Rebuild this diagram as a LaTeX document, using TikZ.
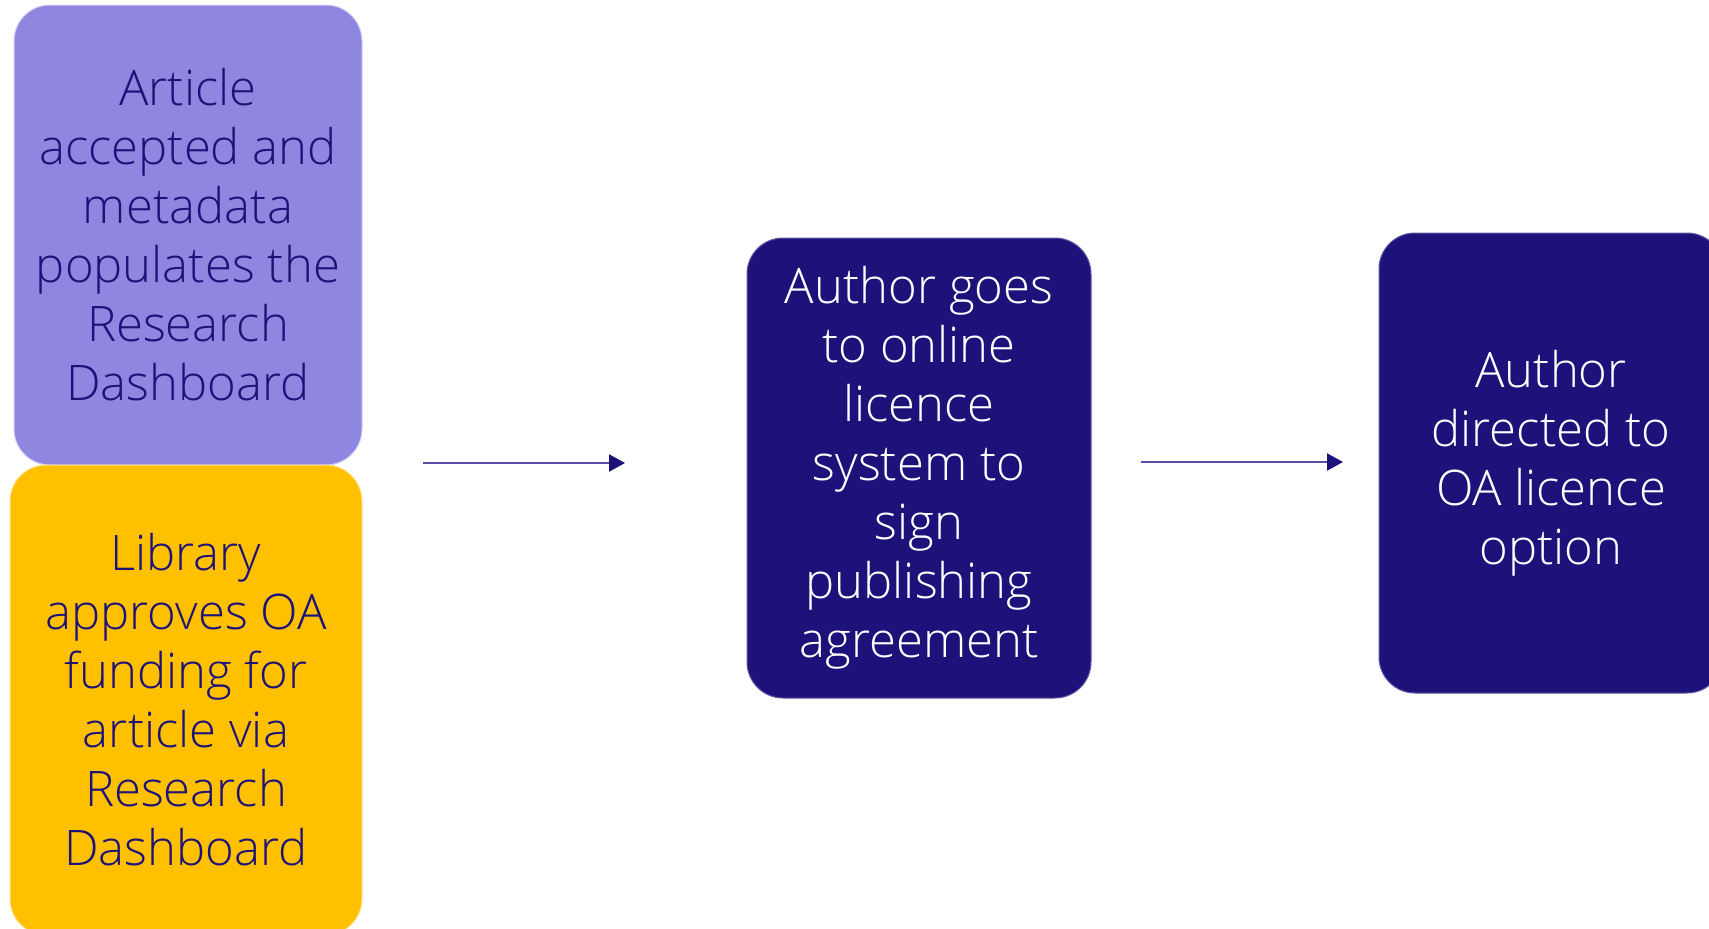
\documentclass[tikz,border=0pt]{standalone}
\usepackage{fontspec}
\setmainfont{Open Sans Light}
\usetikzlibrary{arrows.meta}
\definecolor{navy}{RGB}{28,18,121}
\definecolor{lilac}{RGB}{143,134,224}
\definecolor{amber}{RGB}{255,192,0}
\definecolor{arrowline}{RGB}{88,78,168}
\tikzset{
  card/.style={rectangle, rounded corners=36pt, inner sep=0pt, align=center,
    font=\fontsize{49}{59}\selectfont},
  lightcard/.style={card, fill=#1, draw=white!60!#1, line width=1pt, text=navy},
  darkcard/.style={card, fill=navy, draw=navy!70!white, line width=1pt, text=white},
  flow/.style={draw=arrowline, line width=2.2pt,
    -{Triangle[length=16pt,width=17pt,color=navy]}}
}
\begin{document}
\begin{tikzpicture}[x=1pt,y=-1pt]
\useasboundingbox (0,0) rectangle (1709,929);
\begin{scope}
\clip (0,0) rectangle (1709,929);
\node[lightcard=lilac, minimum width=348pt, minimum height=460pt] (accepted) at (188,235)
  {Article\\accepted and\\metadata\\populates the\\Research\\Dashboard};
\node[lightcard=amber, minimum width=352pt, minimum height=470pt] (library) at (186,700)
  {Library\\approves OA\\funding for\\article via\\Research\\Dashboard};
\node[darkcard, minimum width=344pt, minimum height=460pt] (licence) at (919,468)
  {Author goes\\to online\\licence\\system to\\sign\\publishing\\agreement};
\node[darkcard, minimum width=344pt, minimum height=460pt] (option) at (1551,463)
  {Author\\directed to\\OA licence\\option};
\end{scope}
\coordinate (a1s) at (423,463);
\coordinate (a1e) at (625,463);
\coordinate (a2s) at (1141,462);
\coordinate (a2e) at (1343,462);
\draw[flow] (a1s) -- (a1e);
\draw[flow] (a2s) -- (a2e);
\end{tikzpicture}
\end{document}
